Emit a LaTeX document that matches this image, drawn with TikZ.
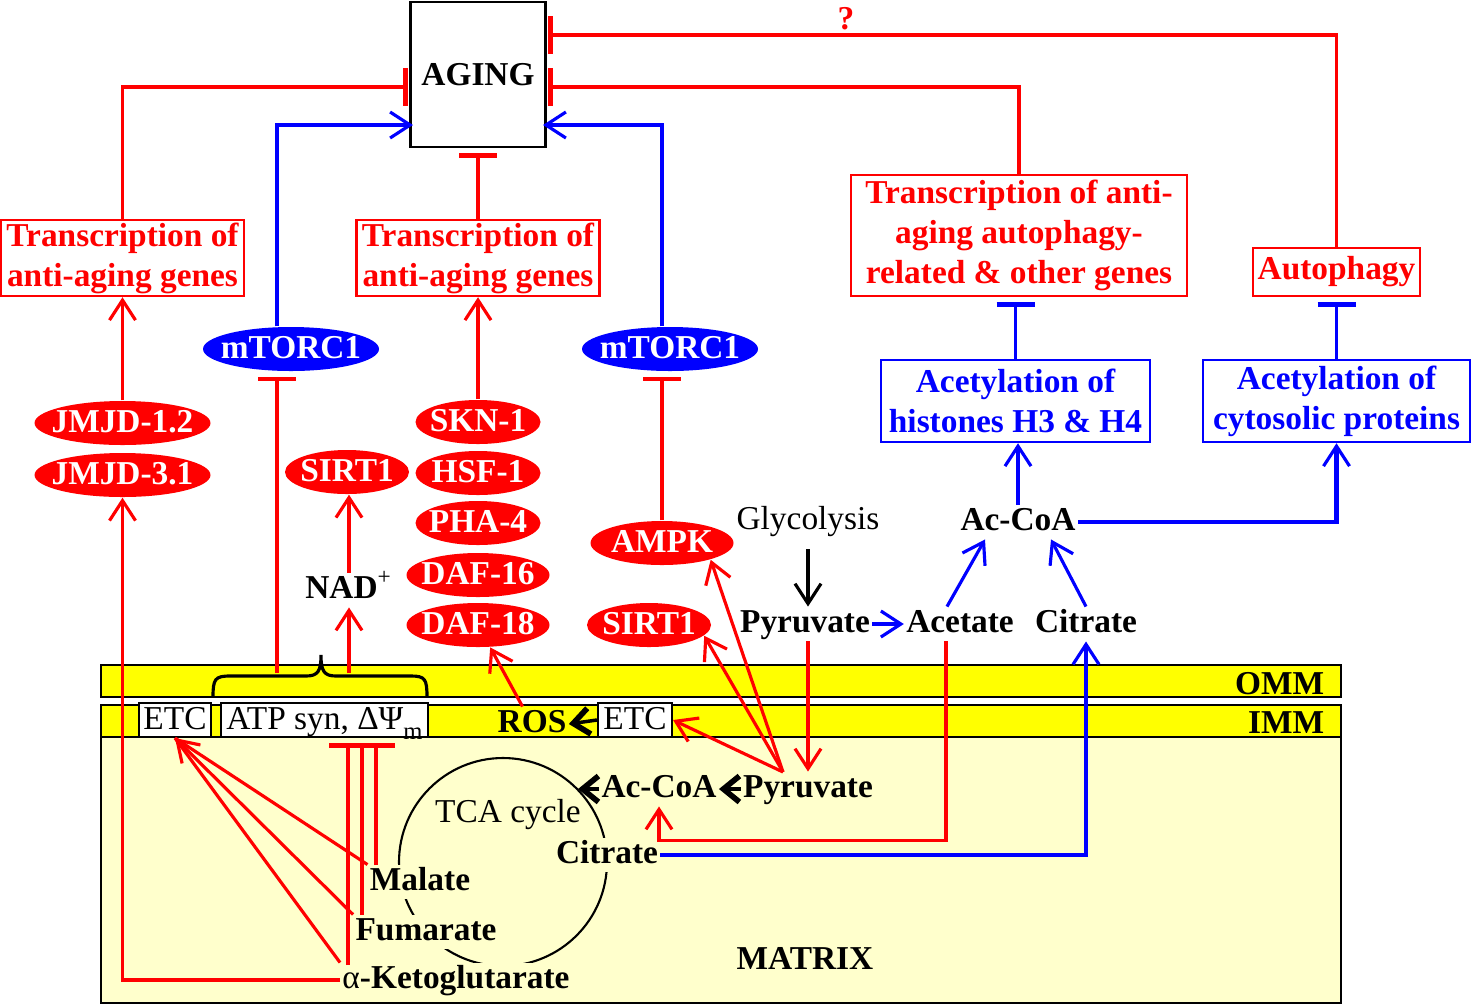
\documentclass[tikz,border=0pt]{standalone}
\usepackage{fontspec}
\setmainfont{Liberation Serif}
\usepackage{xcolor}
\usepackage{tikz}
\usetikzlibrary{
  positioning,
  calc,
  arrows.meta,
  shapes.geometric
}
\definecolor{memb}{RGB}{255,255,0}
\definecolor{matx}{RGB}{255,255,204}
\definecolor{rd}{RGB}{255,0,0}
\definecolor{bl}{RGB}{0,0,255}
\tikzset{
  act/.style={line width=0.9pt,-{Straight Barb[length=2mm,width=2.6mm,line width=0.9pt]}},
  inh/.style={line width=0.9pt,-{Bar[width=3.8mm,line width=1.3pt]},shorten >=0.5mm},
  blk/.style={black,line width=1pt,-{Straight Barb[length=1.6mm,width=2.6mm,line width=1.6pt]}},
  gene/.style={ellipse,fill=rd,text=white,font=\bfseries,inner xsep=-1.5mm,inner ysep=0pt,
    text height=2.3mm,text depth=0.4mm,minimum height=4.4mm,minimum width=#1},
  gene/.default=12.5mm,
  tor/.style={gene=17.6mm,fill=bl},
  redbox/.style={draw=rd,text=rd,line width=0.7pt,font=\bfseries,align=center,inner sep=0pt},
  bluebox/.style={draw=bl,text=bl,line width=0.7pt,font=\bfseries,align=center,inner sep=0pt},
  mol/.style={font=\bfseries,inner sep=0.5pt,text height=2.3mm,text depth=0.7mm},
  wbox/.style={draw,fill=white,line width=0.6pt,inner sep=0pt,text height=2.3mm,text depth=0.5mm}
}
\begin{document}
\fontsize{9.5pt}{11.4pt}\selectfont
\begin{tikzpicture}[x=0.1mm,y=-0.1mm]
  \useasboundingbox (0,0) rectangle (1474,1006);
  % ミトコンドリア膜
  \fill[matx] (101,737) rectangle (1341,1003);
  \draw[line width=0.8pt,fill=memb] (101,665) rectangle (1341,697);
  \draw[line width=0.8pt,fill=memb] (101,705) rectangle (1341,737);
  \draw[line width=0.8pt] (101,737) rectangle (1341,1003);
  \node[font=\bfseries,anchor=east] (omm) at (1336,684) {OMM};
  \node[font=\bfseries,anchor=east] (imm) at (1336,723) {IMM};
  \node[mol] (mtx) at (805,961) {MATRIX};
  % 内膜の複合体
  \node[wbox,minimum width=7.2mm,minimum height=3.4mm] (etcA) at (175,720) {ETC};
  \node[wbox,minimum width=20.7mm,minimum height=3.4mm] (atp) at (324.5,720)
    {ATP syn, ΔΨ\raisebox{-0.7ex}{\fontsize{7}{8}\selectfont m}};
  \node[wbox,minimum width=7.4mm,minimum height=3.4mm] (etcB) at (635,720) {ETC};
  \node[mol] (ros) at (532,724) {ROS};
  % 括弧
  \draw[line width=0.9pt] (213,697) .. controls (213,679) and (215,676) .. (230,676)
    -- (306,676) .. controls (318,676) and (321,671) .. (321,655)
    .. controls (321,671) and (324,676) .. (336,676) -- (411,676)
    .. controls (425,676) and (427,679) .. (427,697);
  \coordinate (brL) at (277,673);
  \coordinate (brR) at (349,673);
  % TCA回路
  \node[circle,draw,line width=0.6pt,minimum size=20.8mm] (tca) at (503,862) {};
  \node (tcaname) at (508,815) {TCA cycle};
  \node[mol,fill=matx] (citM) at (607,855) {Citrate};
  \node[mol,fill=matx] (mal) at (420,882) {Malate};
  \node[mol,fill=matx] (fum) at (426,932) {Fumarate};
  \node[mol,fill=matx] (akg) at (456,980) {{\mdseries α}-Ketoglutarate};
  \node[mol] (acM) at (659,789) {Ac-CoA};
  \node[mol] (pyrM) at (808,789) {Pyruvate};
  % 細胞質
  \node (glyc) at (808,522) {Glycolysis};
  \node[mol] (pyrC) at (805,624) {Pyruvate};
  \node[mol] (acet) at (960,624) {Acetate};
  \node[mol] (citC) at (1086,624) {Citrate};
  \node[mol] (acoa) at (1018,522) {Ac-CoA};
  \node[mol] (nad) at (349,590) {NAD\textsuperscript{\mdseries +}};
  % 遺伝子・タンパク質
  \node[gene=17.6mm] (jmjdA) at (122.5,423) {JMJD-1.2};
  \node[gene=17.6mm] (jmjdB) at (122.5,475) {JMJD-3.1};
  \node[gene=12.4mm] (sirtA) at (347,472) {SIRT1};
  \node[gene] (skn) at (478,422) {SKN-1};
  \node[gene] (hsf) at (478,473) {HSF-1};
  \node[gene] (pha) at (478,523) {PHA-4};
  \node[gene=14.3mm] (dafA) at (478,575) {DAF-16};
  \node[gene=14.3mm] (dafB) at (478,625) {DAF-18};
  \node[gene=14.3mm] (ampk) at (662,543) {AMPK};
  \node[gene=12.4mm] (sirtB) at (649,625) {SIRT1};
  \node[tor] (torA) at (291,349) {mTORC1};
  \node[tor] (torB) at (670,349) {mTORC1};
  % 箱
  \node[draw,line width=0.7pt,minimum width=13mm,minimum height=14.5mm,font=\bfseries] (aging) at (478,74.5) {AGING};
  \node[redbox,minimum width=24.3mm,minimum height=7.6mm] (trA) at (122.5,258) {Transcription of\\anti-aging genes};
  \node[redbox,minimum width=24.3mm,minimum height=7.6mm] (trB) at (478,258) {Transcription of\\anti-aging genes};
  \node[redbox,minimum width=33.6mm,minimum height=12.1mm] (trC) at (1019,235.5)
    {Transcription of anti-\\aging autophagy-\\related \& other genes};
  \node[redbox,minimum width=16.7mm,minimum height=4.8mm] (autoph) at (1336.5,272) {Autophagy};
  \node[bluebox,minimum width=26.9mm,minimum height=8.2mm] (acetH) at (1015.5,401) {Acetylation of\\histones H3 \& H4};
  \node[bluebox,minimum width=26.7mm,minimum height=8.2mm] (acetP) at (1336.5,401) {Acetylation of\\cytosolic proteins};
  \node[text=rd,font=\bfseries] (qm) at (846,19) {?};
  % AGINGへの矢印
  \coordinate (agA) at (413,87);
  \coordinate (agB) at (413,125);
  \coordinate (agC) at (543,87);
  \coordinate (agD) at (543,125);
  \coordinate (agE) at (543,35);
  \draw[rd,inh] (trA.north) |- (agA);
  \draw[bl,act] (torA.north -| brL) |- (agB);
  \draw[rd,inh] (trB.north) -- (aging.south);
  \draw[bl,act] (torB.north -| ampk.north) |- (agD);
  \draw[rd,inh] (trC.north) |- (agC);
  \draw[rd,inh] (autoph.north) |- (agE);
  % 転写
  \draw[rd,act] (jmjdA.north) -- (trA.south);
  \draw[rd,act] (skn.north) -- (trB.south);
  \draw[bl,inh] (acetH.north) -- (acetH.north |- trC.south);
  \draw[bl,inh] (acetP.north) -- (autoph.south);
  \draw[rd,act] (akg.west) -| (jmjdB.south);
  \draw[rd,inh] (brL) -- (brL |- torA.south);
  \draw[rd,act] (brR) -- (nad.south);
  \draw[rd,act] (nad.north) -- (nad.north |- sirtA.south);
  \draw[rd,inh] (ampk.north) -- (ampk.north |- torB.south);
  % 細胞質の代謝
  \draw[act] (glyc.south) -- (glyc.south |- pyrC.north);
  \draw[bl,act] (pyrC.east) -- (acet.west);
  \draw[bl,act] ([xshift=-1.3mm]acet.north) -- ([xshift=-3.3mm]acoa.south);
  \draw[bl,act] (citC.north) -- ([xshift=3.3mm]acoa.south);
  \draw[bl,act] (acoa.north) -- (acoa.north |- acetH.south);
  \draw[bl,act,line width=1.2pt] (acoa.east) -| (acetP.south);
  \draw[rd,act] (pyrC.south -| pyrM.north) -- (pyrM.north);
  \draw[rd,act] ([xshift=-1.4mm]acet.south) |- ($(acM.south)+(0,34)$) -- (acM.south);
  \draw[bl,act] (citM.east) -| (citC.south);
  % マトリックス
  \coordinate (tcaIn) at (578,789);
  \coordinate (fan) at (783,772);
  \coordinate (inMal) at (376,865);
  \coordinate (inFum) at (362,915);
  \coordinate (inAkg) at (348,965);
  \draw[blk] (pyrM.west) -- (acM.east);
  \draw[blk] (acM.west) -- (tcaIn);
  \draw[blk] (etcB.west) -- (ros.east);
  \draw[rd,act] (ros) -- (dafB);
  \draw[rd,act] (fan) -- (ampk.-19);
  \draw[rd,act] (fan) -- (sirtB.-11);
  \draw[rd,act] (fan) -- (etcB.east);
  \draw[rd,line width=0.9pt] (mal.north west) -- (etcA.south);
  \draw[rd,act] (fum.north west) -- (etcA.south);
  \draw[rd,line width=0.9pt] (akg.north west) -- (etcA.south);
  \draw[rd,inh] (inMal) -- (inMal |- atp.south);
  \draw[rd,inh] (inFum) -- (inFum |- atp.south);
  \draw[rd,inh] (inAkg) -- (inAkg |- atp.south);
\end{tikzpicture}
\end{document}
